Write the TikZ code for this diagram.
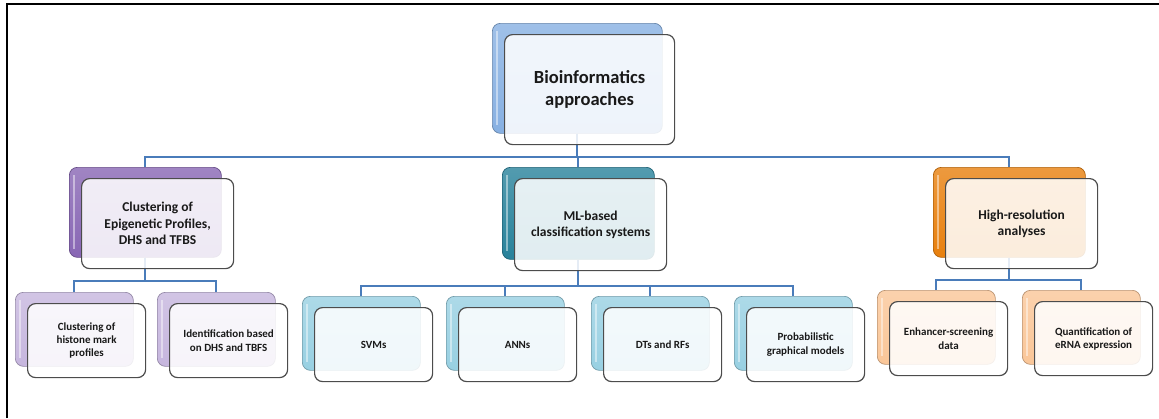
\documentclass[tikz,border=0pt]{standalone}
\usepackage{fontspec}
\setmainfont{Carlito}
\usetikzlibrary{backgrounds}

\definecolor{topblue}{RGB}{135,176,226}
\definecolor{purp}{RGB}{136,102,180}
\definecolor{lav}{RGB}{198,182,222}
\definecolor{teal}{RGB}{40,130,155}
\definecolor{skyb}{RGB}{152,208,226}
\definecolor{orng}{RGB}{232,128,14}
\definecolor{peach}{RGB}{250,198,152}
\definecolor{connblue}{RGB}{74,124,186}

\tikzset{
  backbox/.style={rectangle, rounded corners=8pt, draw=#1!75!black, line width=0.7pt,
    top color=#1!80!white, bottom color=#1,
    path picture={\draw[white, opacity=.45, line width=2.2pt]
      ([xshift=4.5pt,yshift=-8pt]path picture bounding box.north west) --
      ([xshift=4.5pt,yshift=8pt]path picture bounding box.south west);}},
  frontbox/.style={rectangle, rounded corners=8pt, draw=black!70, line width=1.2pt,
    fill=white, fill opacity=0.86, text opacity=1, align=center, text=black!90, inner sep=2pt},
  conn/.style={draw=connblue, line width=2pt},
  bigtxt/.style={font=\fontsize{18.5}{22}\selectfont\bfseries},
  midtxt/.style={font=\fontsize{13.5}{16.5}\selectfont\bfseries},
  smalltxt/.style={font=\fontsize{11}{13.2}\selectfont\bfseries},
}

% back tile at (x,y) top-left, front tile offset by (12,11)
\newcommand\tile[8]{%
  \node[backbox=#6, minimum width=#4pt, minimum height=#5pt, anchor=north west] (#1-b) at (#2,#3) {};
  \node[frontbox, minimum width=#4pt, minimum height=#5pt, anchor=north west, #7] (#1) at (#2+12,#3+11) {#8};
}

\begin{document}
\begin{tikzpicture}[x=1pt,y=-1pt]
\useasboundingbox (0,0) rectangle (1159,418);
\draw[line width=2pt] (7,418) -- (7,4) -- (1159,4);

\tile{top}{492}{23}{170}{110}{topblue}{bigtxt}{Bioinformatics\\approaches}

\tile{epi}{69}{167}{152}{90}{purp}{midtxt}{Clustering of\\Epigenetic Profiles,\\DHS and TFBS}
\tile{ml}{502}{167}{152}{92}{teal}{midtxt}{ML-based\\classification systems}
\tile{hr}{933}{167}{152}{90}{orng}{midtxt}{High-resolution\\analyses}

\tile{hist}{15}{292}{118}{74}{lav}{smalltxt}{Clustering of\\histone mark\\profiles}
\tile{dhs}{157}{292}{118}{74}{lav}{smalltxt}{Identification based\\on DHS and TBFS}

\tile{svm}{302}{296}{118}{74}{skyb}{smalltxt}{SVMs}
\tile{ann}{446}{296}{118}{74}{skyb}{smalltxt}{ANNs}
\tile{dt}{591}{296}{118}{74}{skyb}{smalltxt}{DTs and RFs}
\tile{pgm}{734}{296}{118}{74}{skyb}{smalltxt}{Probabilistic\\graphical models}

\tile{enh}{877}{290}{118}{74}{peach}{smalltxt}{Enhancer-screening\\data}
\tile{erna}{1022}{290}{118}{74}{peach}{smalltxt}{Quantification of\\eRNA expression}

\begin{scope}[on background layer]
  \foreach \c in {epi,ml,hr}
    \draw[conn] (top-b.south) -- ++(0,23) -| (\c-b.north);
  \foreach \c in {hist,dhs}
    \draw[conn] (epi-b.south) -- ++(0,23) -| (\c-b.north);
  \foreach \c in {svm,ann,dt,pgm}
    \draw[conn] (ml-b.south) -- ++(0,26) -| (\c-b.north);
  \foreach \c in {enh,erna}
    \draw[conn] (hr-b.south) -- ++(0,22) -| (\c-b.north);
\end{scope}
\end{tikzpicture}
\end{document}
